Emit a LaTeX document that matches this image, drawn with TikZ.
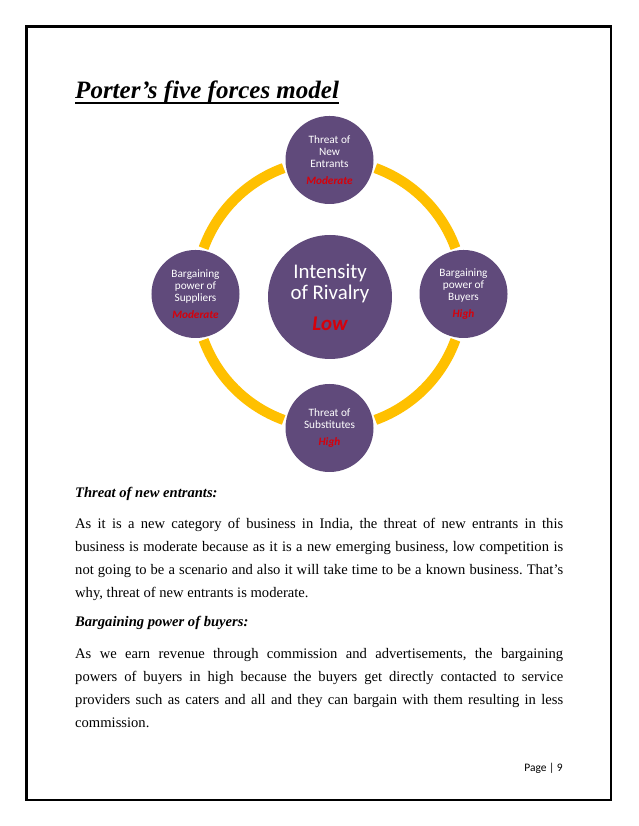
\documentclass[tikz,border=0pt]{standalone}
\usepackage{fontspec}
\setmainfont{Liberation Serif}
\newfontfamily\calibri{Carlito}
\frenchspacing

\definecolor{forcepurple}{RGB}{96,74,123}
\definecolor{ringgold}{RGB}{255,192,0}
\definecolor{forcered}{RGB}{215,0,10}

\tikzset{
  force/.style={circle, fill=forcepurple, text=white, minimum size=84.4pt, inner sep=0pt,
    align=center, font=\calibri\fontsize{10.8}{11.6}\selectfont},
  hubforce/.style={force, minimum size=118.9pt, font=\calibri\fontsize{20}{21}\selectfont},
  ring/.style={ringgold, line width=9.8pt},
  bodyline/.style={anchor=base west, inner sep=0pt, font=\fontsize{14}{16}\selectfont},
  heading/.style={bodyline, font=\fontsize{14}{16}\selectfont\bfseries\itshape}
}
\newcommand{\lvl}[1]{{\color{forcered}\bfseries\itshape #1}}
\newcommand{\jline}[1]{\makebox[468pt][s]{#1}}

\begin{document}
\begin{tikzpicture}[x=0.959pt, y=0.959pt]
    \useasboundingbox[fill=white] (0,0) rectangle (638,826);
    % Page frame and title
    \draw[line width=2.4pt] (26.5,26) rectangle (611,799.5);
    \node[anchor=base west, inner sep=0pt, font=\fontsize{24}{28}\selectfont\bfseries\itshape] (title) at (75,727) {Porter’s five forces model};
    \draw[line width=1.4pt] ([yshift=-3.8pt]title.base west) -- ([yshift=-3.8pt]title.base east);

    % Draw nodes
    \coordinate (hub) at (329.5,532);
    \node[hubforce] (rivalry) at (330,529) {Intensity\\of Rivalry\\[8pt]\lvl{Low}};
    \node[force] (entrants) at (329.5,666) {Threat of\\New\\Entrants\\[5pt]\lvl{Moderate}};
    \node[force] (buyers) at (463.5,532) {Bargaining\\power of\\Buyers\\[5pt]\lvl{High}};
    \node[force] (substitutes) at (329.5,398) {Threat of\\Substitutes\\[5pt]\lvl{High}};
    \node[force] (suppliers) at (195.5,532) {Bargaining\\power of\\Suppliers\\[5pt]\lvl{Moderate}};

    % Draw connections
    \foreach \a in {20,110,200,290}
        \draw[ring] (hub) ++(\a:134) arc[start angle=\a, end angle=\a+50, radius=134];

    % Labels
    \node[heading] (newhead) at (75,328) {Threat of new entrants:};
    \node[bodyline] (new1) at (75,297) {\jline{As it is a new category of business in India, the threat of new entrants in this}};
    \node[bodyline] (new2) at (75,274) {\jline{business is moderate because as it is a new emerging business, low competition is}};
    \node[bodyline] (new3) at (75,251) {\jline{not going to be a scenario and also it will take time to be a known business. That’s}};
    \node[bodyline] (new4) at (75,228) {why, threat of new entrants is moderate.};
    \node[heading] (buyhead) at (75,199) {Bargaining power of buyers:};
    \node[bodyline] (buy1) at (75,167) {\jline{As we earn revenue through commission and advertisements, the bargaining}};
    \node[bodyline] (buy2) at (75,144) {\jline{powers of buyers in high because the buyers get directly contacted to service}};
    \node[bodyline] (buy3) at (75,121) {\jline{providers such as caters and all and they can bargain with them resulting in less}};
    \node[bodyline] (buy4) at (75,98) {commission.};
    \node[anchor=base east, inner sep=0pt, font=\calibri\fontsize{11}{13}\selectfont] (page) at (563,54) {Page | 9};
\end{tikzpicture}
\end{document}
